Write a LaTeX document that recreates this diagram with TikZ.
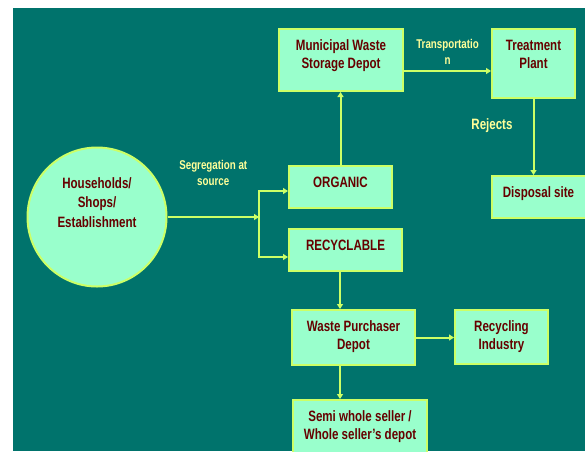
\documentclass[tikz,border=0pt]{standalone}
\usepackage{fontspec}
\setmainfont{Liberation Sans}[FakeStretch=0.77]
\usetikzlibrary{arrows.meta,positioning}
\definecolor{sea}{RGB}{0,115,108}
\definecolor{mint}{RGB}{153,255,204}
\definecolor{lime}{RGB}{204,255,102}
\definecolor{maroon}{RGB}{102,0,0}
\definecolor{cream}{RGB}{255,255,153}
\tikzset{
  depot/.style={draw=lime,line width=2pt,fill=mint,inner sep=0pt},
  depottext/.style={text=maroon,font=\bfseries\fontsize{15}{18}\selectfont,align=center,inner sep=0pt,
                    anchor=north,yshift=-11.5pt},
  source/.style={circle,draw=lime,line width=2pt,fill=mint,minimum size=139pt,inner sep=0pt},
  feed/.style={draw=lime,line width=2pt,-{Triangle[length=5pt,width=6pt]}},
  note/.style={text=cream,font=\bfseries\fontsize{12.7}{16}\selectfont,align=center,inner sep=0pt},
}
\begin{document}
\begin{tikzpicture}[x=1pt,y=-1pt]
  \useasboundingbox (0,0) rectangle (585,451);
  \fill[white] (0,0) rectangle (585,451);
  \fill[sea] (13,8) rectangle (585,451);
  \node[source,label={[depottext,font=\bfseries\fontsize{15}{19.5}\selectfont,anchor=center,yshift=26pt]center:Households/\\Shops/\\Establishment}] (house) at (97,217) {};
  \node[depot,minimum width=124pt,minimum height=62pt,label={[depottext]north:Municipal Waste\\Storage Depot}] (muni) at (341,60) {};
  \node[depot,minimum width=83pt,minimum height=69pt,label={[depottext]north:Treatment\\Plant}] (treat) at (533.5,63.5) {};
  \node[depot,minimum width=103pt,minimum height=42pt,label={[depottext]north:ORGANIC}] (organic) at (340.5,187) {};
  \node[depot,minimum width=113pt,minimum height=42pt,label={[depottext]north:RECYCLABLE}] (recyc) at (345.5,250) {};
  \node[depot,minimum width=95pt,minimum height=42pt,label={[depottext,xshift=-1pt]north:Disposal site}] (disposal) at (539.5,197) {};
  \node[depot,minimum width=123pt,minimum height=55pt,label={[depottext]north:Waste Purchaser\\Depot}] (wpd) at (353.5,337.5) {};
  \node[depot,minimum width=93pt,minimum height=54pt,label={[depottext]north:Recycling\\Industry}] (recind) at (501.5,337) {};
  \node[depot,minimum width=134pt,minimum height=64pt,label={[depottext]north:Semi whole seller /\\Whole seller’s depot}] (semi) at (360,432) {};
  \coordinate (split) at (259,217);
  \draw[feed] (house) -- node[note,above=30pt] {Segregation at\\source} (split);
  \draw[feed] (split) |- ([yshift=-4pt]organic.west);
  \draw[feed] (split) |- ([yshift=-7pt]recyc.west);
  \draw[feed] (organic.north) -- (organic.north |- muni.south);
  \draw[feed] ([yshift=-11pt]muni.east) -- node[note,above=6pt] {Transportatio\\n} ([yshift=-11pt]muni.east -| treat.west);
  \draw[feed] (treat.south) -- node[note,pos=0.35,left=20pt,font=\bfseries\fontsize{15}{18}\selectfont] {Rejects} (treat.south |- disposal.north);
  \draw[feed] ([xshift=-5.5pt]recyc.south) -- ([xshift=-5.5pt]recyc.south |- wpd.north);
  \draw[feed] ([xshift=-13.5pt]wpd.south) -- ([xshift=-13.5pt]wpd.south |- semi.north);
  \draw[feed] (wpd.east) -- (wpd.east -| recind.west);
\end{tikzpicture}
\end{document}
